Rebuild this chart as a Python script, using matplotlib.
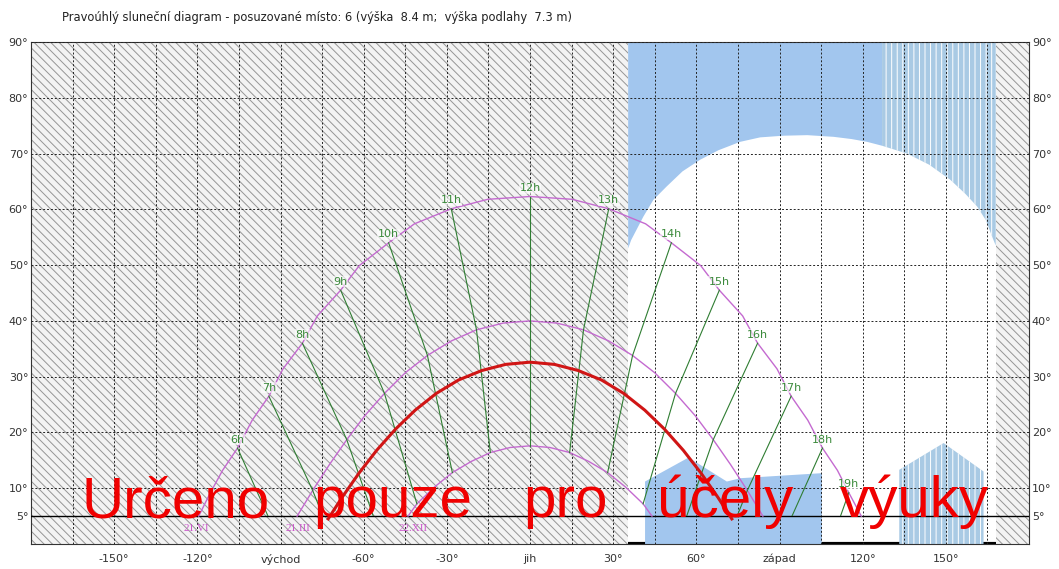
import numpy as np
import matplotlib
matplotlib.use('Agg')
import matplotlib.pyplot as plt
from matplotlib.patches import Rectangle

title = 'Pravoúhlý sluneční diagram - posuzované místo: 6 (výška  8.4 m;  výška podlahy  7.3 m)'

# x ticks (azimut) and y ticks (vyska)
x_ticks = [-150, -120, -90, -60, -30, 0, 30, 60, 90, 120, 150]
x_labels = ['-150°', '-120°', 'východ', '-60°', '-30°', 'jih', '30°', '60°', 'západ', '120°', '150°']
x_minor = [-165, -135, -105, -75, -45, -15, 15, 45, 75, 105, 135, 165]
y_ticks = [5, 10, 20, 30, 40, 50, 60, 70, 80, 90]
y_labels = ['5°', '10°', '20°', '30°', '40°', '50°', '60°', '70°', '80°', '90°']

# zastineni - srafovane oblasti (azimut od-do)
hatch_left = [-180, 35.4]
hatch_right = [168, 180]

# horni prekazka (hranice bile oblasti)
top_az = [35.4, 36.5, 40.9, 44.5, 49.3, 55, 61.4, 68, 75.8, 83, 91.4, 100, 109.5, 116,
          121.6, 127, 136, 144, 151.6, 157, 161.3, 164.5, 166.7, 168.0]
top_alt = [53.0, 54.5, 58.7, 61.7, 64.1, 66.8, 68.9, 70.6, 72.1, 72.9, 73.2, 73.3, 73.0, 72.6,
           72.1, 71.4, 70.0, 68.0, 65.3, 62.8, 60.5, 58.0, 55.1, 53.5]
top_split = 127

# dolni prekazky
low1_az = [41.5, 41.5, 57.2, 71.0, 76.0, 105.3, 105.3]
low1_alt = [0, 11.2, 15.5, 11.2, 11.8, 12.7, 0]
low2_az = [133.2, 133.2, 149.2, 163.6, 163.6]
low2_alt = [0, 13.3, 18.1, 13.0, 0]

# drahy slunce
vi_az = [-119.5, -115.5, -110.9, -105.5, -100.2, -94.2, -89.1, -82.1, -76.7, -68.3, -61.6, -51.0,
         -41.7, -28.4, -15.2, 0, 15.2, 28.4, 41.7, 51.0, 61.6, 68.3, 76.7, 82.1, 89.1, 94.2,
         100.2, 105.5, 110.9, 115.0, 119.5]
vi_alt = [5.0, 9.0, 13.2, 17.2, 22.2, 26.5, 31.4, 36.0, 40.9, 45.5, 49.9, 54.0, 57.4, 60.1,
          61.8, 62.3, 61.8, 60.1, 57.4, 54.0, 49.9, 45.5, 40.9, 36.0, 31.4, 26.5, 22.2, 17.2,
          13.2, 9.2, 5.0]
iii_az = [-84.0, -78.4, -72.4, -66.1, -59.6, -52.5, -45.0, -37.0, -28.4, -19.3, -9.75, 0,
          9.75, 19.3, 28.4, 37.0, 45.0, 52.5, 59.6, 66.1, 72.4, 78.4, 84.0]
iii_alt = [5.0, 9.6, 14.2, 18.7, 23.0, 27.0, 30.7, 33.8, 36.4, 38.4, 39.6, 40.0,
           39.6, 38.4, 36.4, 33.8, 30.7, 27.0, 23.0, 18.7, 14.2, 9.6, 5.0]
xii_az = [-44.0, -40.8, -34.5, -28.0, -21.2, -14.3, -7.2, 0, 7.2, 14.3, 21.2, 28.0, 34.5, 40.8, 44.0]
xii_alt = [5.0, 7.2, 10.2, 12.8, 14.8, 16.4, 17.3, 17.6, 17.3, 16.4, 14.8, 12.8, 10.2, 7.2, 5.0]
red_az = [-72.8, -67.8, -61.7, -55.3, -48.5, -41.4, -33.8, -25.8, -17.4, -8.8, 0,
          8.8, 17.4, 25.8, 33.8, 41.4, 48.5, 55.3, 61.7, 67.8, 72.8]
red_alt = [4.5, 8.35, 12.7, 16.8, 20.6, 24.0, 27.0, 29.4, 31.1, 32.2, 32.6,
           32.2, 31.1, 29.4, 27.0, 24.0, 20.6, 16.8, 12.7, 8.35, 4.5]

# hodinove body (21.VI, 21.III, 22.XII)
hours = [6, 7, 8, 9, 10, 11, 12, 13, 14, 15, 16, 17, 18, 19]
h_vi_az = [-105.5, -94.2, -82.1, -68.3, -51.0, -28.4, 0, 28.4, 51.0, 68.3, 82.1, 94.2, 105.5, 115.0]
h_vi_alt = [17.2, 26.5, 36.0, 45.5, 54.0, 60.1, 62.3, 60.1, 54.0, 45.5, 36.0, 26.5, 17.2, 9.2]
h_iii_az = [-90, -78.4, -66.1, -52.5, -37.0, -19.3, 0, 19.3, 37.0, 52.5, 66.1, 78.4, 90, 101.6]
h_iii_alt = [0, 9.6, 18.7, 27.0, 33.8, 38.4, 40.0, 38.4, 33.8, 27.0, 18.7, 9.6, 0, -9.6]
h_xii_az = [-74.4, -63.7, -52.6, -40.8, -28.0, -14.3, 0, 14.3, 28.0, 40.8, 52.6, 63.7, 74.4, 85.2]
h_xii_alt = [-17.7, -8.7, -0.6, 7.2, 12.8, 16.4, 17.6, 16.4, 12.8, 7.2, -0.6, -8.7, -17.7, -27.2]

date_labels = ['21.VI', '21.III', '22.XII']
date_az = [-120.2, -83.8, -42.2]

wm_words = ['Určeno', 'pouze', 'pro', 'účely', 'výuky']
wm_az = [-127.8, -49.5, 13.0, 70.4, 138.6]

plt.rcParams['hatch.linewidth'] = 0.7

fig = plt.figure(figsize=(10.59, 5.69), dpi=100)
ax = fig.add_axes([31/1059, 25/569, 998/1059, 502/569])
ax.set_xlim(-180, 180)
ax.set_ylim(0, 90)

# spodni cara
ax.axhline(0, color='black', lw=3, zorder=0.5)

# srafovani
for a, b in [hatch_left, hatch_right]:
    ax.fill_between([a, b], 0, 90, facecolor='#f3f3f3', edgecolor='#959595',
                    hatch='\\\\\\\\', linewidth=0, zorder=1)

# horni prekazka
taz = np.array(top_az)
ax.fill_between(taz, top_alt, 90, where=taz <= top_split, facecolor='#a2c6ee',
                linewidth=0, zorder=1)
ax.fill_between(taz, top_alt, 90, where=taz >= top_split, facecolor='#a9cae4',
                edgecolor='white', hatch='|||', linewidth=0, zorder=1)

# dolni prekazky
ax.fill(low1_az, low1_alt, facecolor='#a2c6ee', linewidth=0, zorder=1)
ax.fill(low2_az, low2_alt, facecolor='#a9cae4', edgecolor='white', hatch='|||',
        linewidth=0, zorder=1)

# mrizka
ax.set_xticks(x_ticks)
ax.set_xticklabels(x_labels)
ax.set_xticks(x_minor, minor=True)
ax.set_yticks(y_ticks)
ax.set_yticklabels(y_labels)
ax.set_axisbelow(False)
ax.grid(True, which='both', color='#222222', lw=0.7, ls=(0, (2, 2)))
ax.axhline(5, color='black', lw=1.0, zorder=2.6)

# drahy slunce
path_col = '#c46ad0'
ax.plot(vi_az, vi_alt, color=path_col, lw=1.0, zorder=3)
ax.plot(iii_az, iii_alt, color=path_col, lw=1.0, zorder=3)
ax.plot(xii_az, xii_alt, color=path_col, lw=1.0, zorder=3)
ax.plot(red_az, red_alt, color='#d01515', lw=2.2, zorder=3.5)

# hodinove cary
clip = Rectangle((-180, 5), 360, 85, transform=ax.transData)
for i, h in enumerate(hours):
    ln, = ax.plot([h_vi_az[i], h_iii_az[i], h_xii_az[i]],
                  [h_vi_alt[i], h_iii_alt[i], h_xii_alt[i]],
                  color='#2f7d32', lw=0.8, zorder=3)
    ln.set_clip_path(clip)
    ax.text(h_vi_az[i], h_vi_alt[i] + 1.5, f'{h}h', ha='center', va='center',
            color='#3b8a3b', fontsize=8, zorder=4,
            bbox=dict(fc='white', ec='none', alpha=0.6, pad=0.4))

for lab, az in zip(date_labels, date_az):
    ax.text(az, 2.7, lab, ha='center', va='center', color='#cc55cc', fontsize=8,
            family='Liberation Serif', zorder=4)

# vodoznak
for w, az in zip(wm_words, wm_az):
    ax.text(az, 4.8, w, ha='center', va='baseline', fontsize=42, color='#f00000',
            family='Liberation Sans', zorder=10)

ax.tick_params(axis='both', which='both', length=0, labelsize=8, colors='#333333')
ax.tick_params(axis='x', pad=7)
ax.tick_params(axis='y', labelleft=True, labelright=True, pad=2)
for s in ax.spines.values():
    s.set_color('#333333')
    s.set_linewidth(0.8)

fig.text(62/1059, 1 - 17/569, title, ha='left', va='center', fontsize=8.3, color='#222222')

fig.savefig('out.png', dpi=100)
